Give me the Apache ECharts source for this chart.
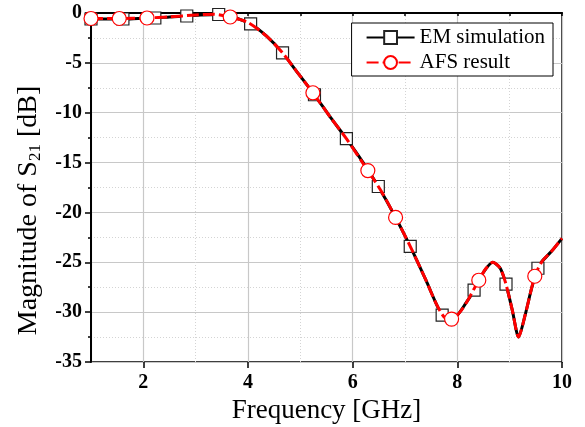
<!DOCTYPE html>
<html>
<head>
<meta charset="utf-8">
<script src="https://cdn.jsdelivr.net/npm/echarts@6/dist/echarts.min.js"></script>
<style>
  html, body { margin: 0; padding: 0; background: #fff; }
  #chart { width: 585px; height: 427px; }
</style>
</head>
<body>
<div id="chart"></div>
<script>
  // EM simulation curve (GHz, dB), squares sit on some of these samples
  const emFreq = [1.0, 1.3, 1.61, 1.9, 2.22, 2.5, 2.83, 3.1, 3.44, 3.7, 4.05, 4.35, 4.66, 4.95, 5.27,
    5.58, 5.88, 6.2, 6.49, 6.8, 7.1, 7.4, 7.6, 7.71, 7.85, 8.0, 8.15, 8.32, 8.5, 8.68, 8.82, 8.93,
    9.05, 9.17, 9.3, 9.42, 9.54, 9.62, 9.8, 10.0];
  const emMag = [-0.6, -0.6, -0.6, -0.55, -0.5, -0.4, -0.3, -0.2, -0.15, -0.4, -1.1, -2.3, -4.0, -6.0, -8.2,
    -10.5, -12.6, -15.0, -17.4, -20.3, -23.4, -26.8, -29.2, -30.3, -30.8, -30.3, -29.2, -27.8, -26.0, -25.0, -25.6, -27.2,
    -29.8, -32.5, -30.2, -27.6, -25.6, -24.9, -23.9, -22.6];
  const squareFreq = [1.0, 1.61, 2.22, 2.83, 3.44, 4.05, 4.66, 5.27, 5.88, 6.49, 7.1, 7.71, 8.32, 8.93, 9.54];

  // AFS fitted curve, circles mark the adaptive samples
  const afsFreq = [1.0, 1.54, 2.07, 2.5, 3.0, 3.35, 3.66, 4.0, 4.35, 4.66, 4.95, 5.24, 5.58, 5.88, 6.29,
    6.55, 6.82, 7.1, 7.4, 7.6, 7.75, 7.89, 8.05, 8.2, 8.41, 8.55, 8.68, 8.82, 8.93, 9.05, 9.17,
    9.3, 9.48, 9.62, 9.8, 10.0];
  const afsMag = [-0.55, -0.55, -0.5, -0.38, -0.2, -0.12, -0.4, -0.95, -2.3, -4.0, -6.0, -8.0, -10.5, -12.6, -15.8,
    -17.9, -20.5, -23.4, -26.8, -29.2, -30.5, -30.7, -30.0, -28.8, -26.8, -25.6, -25.0, -25.6, -27.2, -29.8, -32.5,
    -30.2, -26.4, -24.9, -23.9, -22.6];
  const circleFreq = [1.0, 1.54, 2.07, 3.66, 5.24, 6.29, 6.82, 7.89, 8.41, 9.48];

  const serif = "'Times New Roman', 'Liberation Serif', serif";

  function withMarkers(freq, mag, marks) {
    return freq.map(function (f, i) {
      const item = { value: [f, mag[i]] };
      if (marks.indexOf(f) < 0) item.symbol = "none";
      return item;
    });
  }

  const chart = echarts.init(document.getElementById("chart"));

  chart.setOption({
    animation: false,
    backgroundColor: "#fff",
    grid: {
      left: 91, right: 23, top: 13, bottom: 65,
      containLabel: false,
      outerBoundsMode: "none",
      show: true, borderColor: "#000", borderWidth: 1.5, backgroundColor: "transparent"
    },
    legend: {
      orient: "vertical",
      right: 32,
      top: 23,
      backgroundColor: "#fff",
      borderColor: "#000",
      borderWidth: 1,
      padding: [4, 8, 3, 14],
      itemGap: 4,
      itemWidth: 48,
      itemHeight: 16,
      textStyle: { fontFamily: serif, fontSize: 21, color: "#000" },
      data: ["EM simulation", "AFS result"]
    },
    xAxis: [
      {
        type: "value", min: 1, max: 10, interval: 1, position: "bottom",
        axisLine: { show: true, lineStyle: { color: "#000", width: 2 } },
        axisTick: { show: true, length: 3, lineStyle: { color: "#000", width: 1.5 } },
        axisLabel: { show: false },
        splitLine: { show: true, lineStyle: { color: "#d4d4d4", type: [1, 2], width: 1 } }
      },
      {
        type: "value", min: 1, max: 10, splitNumber: 5, position: "bottom",
        axisLine: { show: false },
        axisTick: { show: true, length: 6, lineStyle: { color: "#000", width: 1.5 } },
        axisLabel: {
          showMinLabel: false, margin: 11,
          fontFamily: serif, fontSize: 20, fontWeight: "bold", color: "#000"
        },
        splitLine: { show: true, lineStyle: { color: "#c8c8c8", width: 1.2 } },
        name: "Frequency [GHz]",
        nameLocation: "middle",
        nameGap: 32,
        nameTextStyle: { fontFamily: serif, fontSize: 27, color: "#000" }
      }
    ],
    yAxis: {
      type: "value", min: -35, max: 0, interval: 5,
      axisLine: { show: true, lineStyle: { color: "#000", width: 2 } },
      axisTick: { show: true, length: 6, lineStyle: { color: "#000", width: 1.5 } },
      minorTick: { show: true, splitNumber: 2, length: 3, lineStyle: { color: "#000", width: 1.5 } },
      axisLabel: { margin: 9, fontFamily: serif, fontSize: 20, fontWeight: "bold", color: "#000" },
      splitLine: { show: true, lineStyle: { color: "#c8c8c8", width: 1.2 } },
      minorSplitLine: { show: true, lineStyle: { color: "#d4d4d4", type: [1, 2], width: 1 } },
      name: "Magnitude of S{s|21} [dB]",
      nameLocation: "middle",
      nameGap: 47,
      nameTextStyle: {
        fontFamily: serif, fontSize: 28, color: "#000", lineHeight: 30,
        padding: [0, 46, 0, 0],
        rich: { s: { fontFamily: serif, fontSize: 17, color: "#000", verticalAlign: "bottom", lineHeight: 30 } }
      }
    },
    series: [
      {
        name: "EM simulation",
        type: "line",
        xAxisIndex: 0,
        smooth: 0.25,
        showAllSymbol: true,
        symbol: "rect",
        symbolSize: 12,
        lineStyle: { color: "#000", width: 3 },
        itemStyle: { color: "#fff", borderColor: "#222", borderWidth: 1.2 },
        emphasis: { disabled: true },
        data: withMarkers(emFreq, emMag, squareFreq),
        z: 2
      },
      {
        name: "AFS result",
        type: "line",
        xAxisIndex: 0,
        smooth: 0.25,
        showAllSymbol: true,
        symbol: "circle",
        symbolSize: 14,
        lineStyle: { color: "#ff0000", width: 3, type: [12, 4] },
        itemStyle: { color: "#fff", borderColor: "#ff0000", borderWidth: 1.2 },
        emphasis: { disabled: true },
        data: withMarkers(afsFreq, afsMag, circleFreq),
        z: 3
      }
    ]
  });

  window.addEventListener("resize", function () {
    chart.resize();
  });
</script>
</body>
</html>
